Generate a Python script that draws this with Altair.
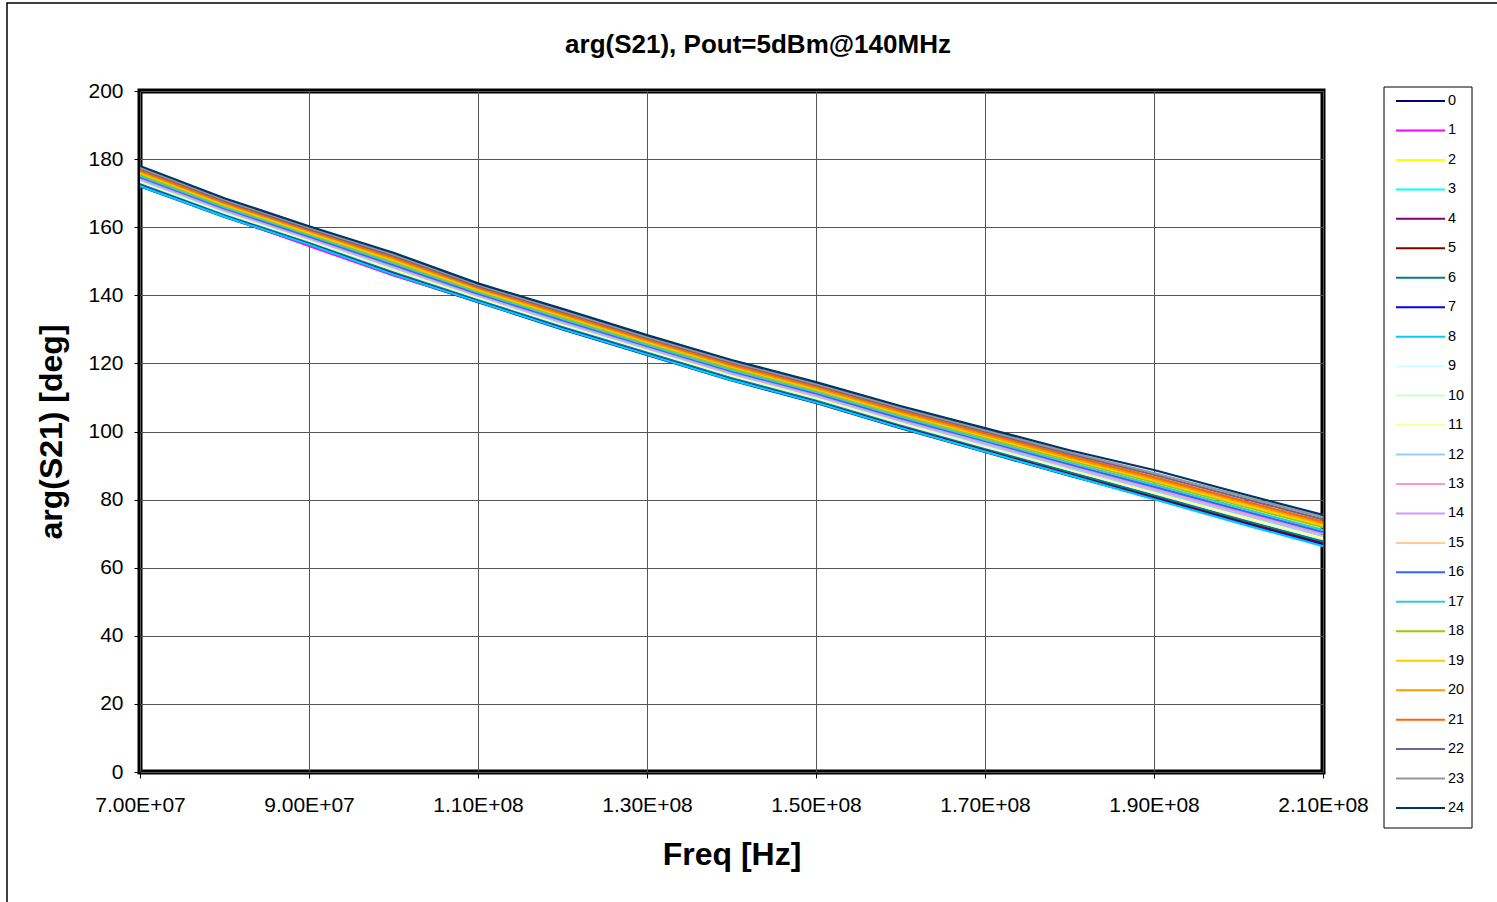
import altair as alt
import pandas as pd

freq = [7.0e7, 8.0e7, 9.0e7, 1.0e8, 1.1e8, 1.2e8, 1.3e8, 1.4e8, 1.5e8, 1.6e8, 1.7e8, 1.8e8, 1.9e8, 2.0e8, 2.1e8]
x_ticks = [7.0e7, 9.0e7, 1.1e8, 1.3e8, 1.5e8, 1.7e8, 1.9e8, 2.1e8]
y_ticks = [0, 20, 40, 60, 80, 100, 120, 140, 160, 180, 200]
title_text = "arg(S21), Pout=5dBm@140MHz"

s0 = [172.0, 163.0, 154.8, 146.0, 138.0, 130.0, 122.5, 115.0, 108.4, 101.0, 94.0, 87.0, 80.4, 73.5, 67.0]
s1 = [172.3, 163.3, 154.5, 145.8, 138.3, 130.3, 122.8, 115.3, 108.7, 101.3, 94.4, 87.4, 80.4, 73.5, 66.9]
s2 = [172.7, 163.7, 155.5, 146.8, 138.7, 130.7, 123.2, 115.7, 109.1, 101.8, 94.8, 87.9, 81.0, 74.1, 67.5]
s3 = [172.5, 163.4, 155.2, 146.5, 138.4, 130.5, 123.0, 115.5, 108.9, 101.5, 94.6, 87.6, 80.7, 73.7, 67.1]
s4 = [172.4, 163.3, 155.1, 146.4, 138.3, 130.4, 122.9, 115.4, 108.8, 101.4, 94.4, 87.5, 80.5, 73.5, 67.0]
s5 = [172.6, 163.6, 155.4, 146.7, 138.6, 130.6, 123.1, 115.6, 109.0, 101.7, 94.7, 87.8, 80.9, 73.9, 67.3]
s6 = [172.9, 163.8, 155.6, 147.0, 138.8, 130.9, 123.4, 115.9, 109.3, 102.0, 95.1, 88.1, 81.3, 74.4, 67.8]
s7 = [172.2, 163.2, 155.0, 146.2, 138.2, 130.2, 122.7, 115.2, 108.6, 101.2, 94.2, 87.2, 80.3, 73.3, 66.7]
s8 = [172.1, 163.1, 154.9, 146.1, 138.1, 130.1, 122.6, 115.1, 108.5, 101.1, 94.1, 87.1, 80.1, 73.1, 66.3]
s9 = [173.3, 164.2, 156.0, 147.4, 139.2, 131.3, 123.8, 116.3, 109.7, 102.4, 95.5, 88.7, 81.9, 75.0, 68.4]
s10 = [173.7, 164.5, 156.3, 147.8, 139.5, 131.7, 124.1, 116.7, 110.1, 102.8, 96.0, 89.1, 82.4, 75.5, 69.0]
s11 = [173.5, 164.4, 156.2, 147.6, 139.4, 131.5, 124.0, 116.5, 109.9, 102.6, 95.8, 88.9, 82.1, 75.3, 68.7]
s12 = [173.9, 164.8, 156.6, 148.1, 139.8, 131.9, 124.4, 116.9, 110.4, 103.1, 96.2, 89.4, 82.7, 75.9, 69.3]
s13 = [174.3, 165.1, 156.9, 148.5, 140.1, 132.3, 124.7, 117.3, 110.7, 103.5, 96.7, 89.9, 83.2, 76.4, 69.9]
s14 = [174.5, 165.3, 157.1, 148.7, 140.3, 132.5, 124.9, 117.5, 111.0, 103.7, 96.9, 90.2, 83.6, 76.8, 70.2]
s15 = [174.9, 165.6, 157.4, 149.1, 140.6, 132.9, 125.3, 117.9, 111.3, 104.1, 97.4, 90.6, 84.1, 77.3, 70.8]
s16 = [174.7, 165.5, 157.3, 148.9, 140.5, 132.7, 125.1, 117.7, 111.2, 103.9, 97.2, 90.4, 83.8, 77.1, 70.5]
s17 = [175.1, 165.9, 157.7, 149.4, 140.9, 133.1, 125.5, 118.1, 111.6, 104.4, 97.6, 90.9, 84.4, 77.7, 71.1]
s18 = [175.6, 166.3, 158.1, 149.9, 141.3, 133.6, 126.0, 118.6, 112.1, 104.9, 98.2, 91.5, 85.1, 78.4, 71.9]
s19 = [176.0, 166.6, 158.4, 150.3, 141.6, 134.0, 126.3, 119.0, 112.4, 105.3, 98.6, 92.0, 85.6, 78.9, 72.4]
s20 = [176.3, 167.0, 158.8, 150.7, 142.0, 134.3, 126.7, 119.3, 112.8, 105.7, 99.0, 92.4, 86.1, 79.5, 73.0]
s21 = [176.7, 167.3, 159.1, 151.1, 142.3, 134.7, 127.0, 119.7, 113.2, 106.1, 99.5, 92.9, 86.6, 80.0, 73.5]
s22 = [177.2, 167.7, 159.5, 151.6, 142.7, 135.2, 127.5, 120.2, 113.7, 106.6, 100.0, 93.5, 87.3, 80.7, 74.2]
s23 = [177.5, 168.1, 159.9, 152.0, 143.1, 135.5, 127.8, 120.5, 114.0, 107.0, 100.4, 93.9, 87.8, 81.3, 74.8]
s24 = [178.0, 168.5, 160.3, 152.5, 143.5, 136.0, 128.3, 121.0, 114.5, 107.5, 101.0, 94.5, 88.7, 82.0, 75.5]

series = [s0, s1, s2, s3, s4, s5, s6, s7, s8, s9, s10, s11, s12, s13, s14, s15,
          s16, s17, s18, s19, s20, s21, s22, s23, s24]
names = [str(k) for k in range(25)]
colors = ["#000080", "#FF00FF", "#FFFF00", "#00FFFF", "#800080", "#800000", "#008080",
          "#0000FF", "#00CCFF", "#CCFFFF", "#CCFFCC", "#FFFF99", "#99CCFF", "#FF99CC",
          "#CC99FF", "#FFCC99", "#3366FF", "#33CCCC", "#99CC00", "#FFCC00", "#FF9900",
          "#FF6600", "#666699", "#969696", "#003366"]

rows = []
for k, vals in enumerate(series):
    for f, v in zip(freq, vals):
        rows.append({"freq": f, "phase": v, "series": names[k]})
df = pd.DataFrame(rows)
legend_df = pd.DataFrame({"series": names})

FONT = "Liberation Sans"
color_scale = alt.Scale(domain=names, range=colors)

label_expr = ("format(datum.value / pow(10, floor(log(datum.value) / LN10 + 1e-9)), '.2f') + 'E+' + "
              "(floor(log(datum.value) / LN10 + 1e-9) < 10 ? '0' : '') + "
              "floor(log(datum.value) / LN10 + 1e-9)")

lines = alt.Chart(df).mark_line(strokeWidth=2.2, clip=True).encode(
    x=alt.X("freq:Q",
            scale=alt.Scale(domain=[7.0e7, 2.1e8], nice=False, zero=False),
            axis=alt.Axis(values=x_ticks, labelExpr=label_expr, title="Freq [Hz]",
                          labelFont=FONT, labelFontSize=21, labelColor="#000",
                          labelPadding=16, tickSize=6, tickColor="#000",
                          titleFont=FONT, titleFontSize=32, titleFontWeight="bold",
                          titleColor="#000", titlePadding=24,
                          grid=True, gridColor="#555", gridWidth=1,
                          domain=False, labelFlush=False)),
    y=alt.Y("phase:Q",
            scale=alt.Scale(domain=[0, 200], nice=False),
            axis=alt.Axis(values=y_ticks, title="arg(S21) [deg]",
                          labelFont=FONT, labelFontSize=21, labelColor="#000",
                          labelPadding=11, tickSize=6, tickColor="#000",
                          titleFont=FONT, titleFontSize=32, titleFontWeight="bold",
                          titleColor="#000", titlePadding=19,
                          grid=True, gridColor="#555", gridWidth=1,
                          domain=False)),
    color=alt.Color("series:N", sort=names, scale=color_scale, legend=None),
)

leg_y = alt.Y("series:N", sort=names,
              scale=alt.Scale(type="point", domain=names, range=[10, 717], padding=0),
              axis=None)

leg_lines = alt.Chart(legend_df).mark_rule(strokeWidth=2, clip=False).encode(
    x=alt.value(1256), x2=alt.value(1305),
    y=leg_y,
    color=alt.Color("series:N", sort=names, scale=color_scale, legend=None),
)

leg_text = alt.Chart(legend_df).mark_text(
    font=FONT, fontSize=14.5, color="#000", align="left", baseline="middle", clip=False
).encode(
    x=alt.value(1308), y=leg_y, text="series:N",
)

legend_box = alt.Chart(alt.Data(values=[{}])).mark_rect(
    fillOpacity=0, stroke="#000", strokeWidth=1, clip=False
).encode(
    x=alt.value(1244), x2=alt.value(1332),
    y=alt.value(-4), y2=alt.value(737),
)

border = alt.Chart(alt.Data(values=[{}])).mark_rect(
    fillOpacity=0, stroke="#000", strokeWidth=1.5, clip=False
).encode(
    x=alt.value(-133), x2=alt.value(1370),
    y=alt.value(-88), y2=alt.value(830),
)

title = alt.Chart(alt.Data(values=[{"t": title_text}])).mark_text(
    font=FONT, fontSize=26, fontWeight="bold", color="#000",
    align="center", baseline="middle", clip=False
).encode(
    text="t:N", x=alt.value(618), y=alt.value(-46),
)

main = alt.layer(border, legend_box, title, lines)
legend = alt.layer(leg_lines, leg_text)

chart = alt.layer(main, legend).resolve_scale(y="independent").properties(
    width=1183, height=681,
    padding={"left": 140, "top": 91, "right": 174, "bottom": 130},
    autosize=alt.AutoSizeParams(type="none"),
    background="#fff",
).configure_view(stroke="#000", strokeWidth=5)

chart.save("out.html", embed_options={"renderer": "svg", "actions": False})
